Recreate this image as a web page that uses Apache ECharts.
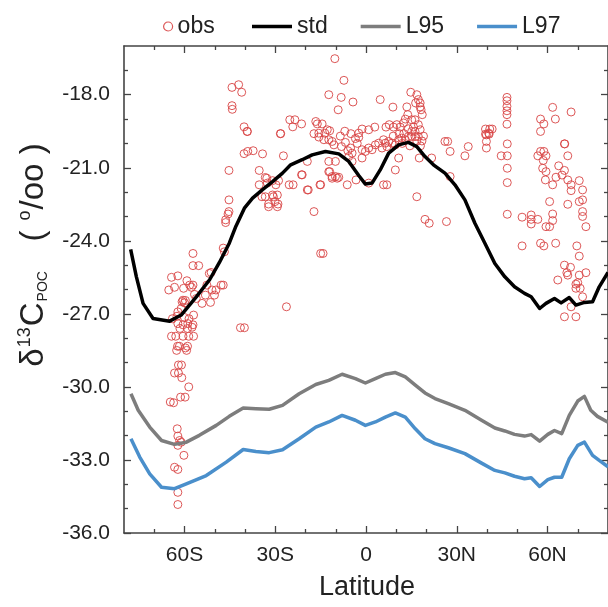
<!DOCTYPE html>
<html><head><meta charset="utf-8">
<script src="https://cdn.jsdelivr.net/npm/echarts@6/dist/echarts.min.js"></script>
<style>html,body{margin:0;padding:0;background:#fff}#c{width:608px;height:607px}</style>
</head><body><div id="c"></div>
<script>
// Latitude ticks
const xMajor = [-60, -30, 0, 30, 60];
const xMinor = [-70, -50, -40, -20, -10, 10, 20, 40, 50, 70];
const xLabels = {'-60':'60S','-30':'30S','0':'0','30':'30N','60':'60N'};
const yMajor = [-36, -33, -30, -27, -24, -21, -18];
const yMinor = [-35, -34, -32, -31, -29, -28, -26, -25, -23, -22, -20, -19, -17];

// std model curve [lat, d13C]
const stdCurve = [[-77.8,-24.35],[-75.9,-25.48],[-73.7,-26.57],[-70.4,-27.19],[-64.9,-27.30],[-61.1,-27.05],[-56.1,-26.3],[-51.7,-25.6],[-48.5,-24.9],[-45.2,-24.1],[-43,-23.4],[-40.2,-22.66],[-37.5,-22.25],[-34.2,-21.9],[-30.9,-21.57],[-27.6,-21.22],[-24.9,-20.88],[-21.1,-20.67],[-17.8,-20.47],[-13.4,-20.33],[-9,-20.43],[-5.7,-20.74],[-2.4,-21.32],[-0.2,-21.67],[2,-21.63],[4.7,-21.09],[7.5,-20.4],[10.8,-20.06],[14,-19.96],[16.8,-20.13],[19.5,-20.54],[22.3,-20.88],[26.1,-21.22],[29.4,-21.7],[32.7,-22.32],[36,-23.28],[39.3,-24.1],[42.6,-24.93],[45.9,-25.48],[49.1,-25.89],[52.4,-26.16],[54.6,-26.3],[57.4,-26.78],[59.5,-26.57],[62.3,-26.37],[64.5,-26.55],[67.2,-26.33],[69.4,-26.64],[72.2,-26.53],[74.9,-26.5],[77.1,-25.89],[80,-25.3]];
// L95 curve
const l95Curve = [[-77.7,-30.28],[-75.3,-30.96],[-71.5,-31.65],[-67.6,-32.2],[-63.3,-32.36],[-59.4,-32.27],[-55.1,-31.99],[-49.5,-31.58],[-45.2,-31.21],[-40.6,-30.87],[-36.4,-30.9],[-32,-30.92],[-27.6,-30.76],[-22.1,-30.28],[-16.6,-29.9],[-12.3,-29.73],[-7.9,-29.48],[-3.5,-29.66],[-0.2,-29.84],[3.1,-29.66],[6.4,-29.48],[9.7,-29.41],[13,-29.59],[16.3,-29.93],[19.5,-30.25],[22.8,-30.48],[27.2,-30.69],[32.7,-30.96],[38.2,-31.37],[42.6,-31.69],[45.9,-31.81],[49.1,-31.95],[52.4,-32.02],[54.6,-31.96],[57.4,-32.23],[60.1,-31.95],[62.3,-31.79],[64.7,-31.92],[67.2,-31.17],[70,-30.58],[72.2,-30.39],[74.3,-30.96],[76.5,-31.21],[80,-31.45]];
// L97 curve
const l97Curve = [[-77.7,-32.13],[-74.8,-32.88],[-71.5,-33.57],[-67.6,-34.12],[-63.3,-34.18],[-59.4,-33.98],[-52.8,-33.64],[-46.2,-33.09],[-40.6,-32.57],[-36.4,-32.65],[-32,-32.7],[-27.6,-32.58],[-22.1,-32.13],[-16.6,-31.65],[-12.3,-31.44],[-7.9,-31.17],[-3.5,-31.37],[-0.2,-31.58],[3.1,-31.44],[6.4,-31.24],[9.7,-31.07],[13,-31.24],[16.3,-31.72],[19.5,-32.13],[22.8,-32.33],[27.2,-32.5],[32.7,-32.74],[38.2,-33.13],[42.6,-33.43],[45.9,-33.53],[49.1,-33.67],[52.4,-33.77],[54.6,-33.73],[57.4,-34.09],[60.1,-33.81],[62.3,-33.71],[64.7,-33.71],[67.2,-32.95],[70,-32.4],[72.2,-32.27],[74.9,-32.81],[77.1,-33.02],[80,-33.28]];

// observations [lat, d13C]
const obsPoints = [
[-64.3,-25.5],[-62.2,-25.44],[-65.2,-26.02],[-63.3,-25.91],[-59.2,-25.64],[-58.3,-25.82],[-57.2,-25.82],[-57.7,-25.91],[-60.3,-25.95],[-52.6,-25.82],[-51.8,-25.34],[-51.2,-25.3],[-47.9,-25.82],[-47.2,-25.82],[-49.6,-26.02],[-50.9,-26.02],[-53.1,-26.23],[-50.1,-26.23],[-54.2,-26.57],[-51.4,-26.53],[-56.7,-26.2],[-56.1,-26.37],[-60.5,-26.44],[-60,-26.55],[-61.1,-26.78],[-62.2,-26.92],[-62.5,-27.1],[-60,-27.15],[-64,-27.2],[-58.5,-27.2],[-57,-27.05],[-62.2,-27.4],[-60.5,-27.45],[-58.9,-27.4],[-57.2,-27.45],[-61.5,-27.6],[-59,-27.6],[-57.5,-27.55],[-64.3,-27.92],[-62.9,-27.92],[-60.5,-27.92],[-58.6,-27.92],[-57,-27.92],[-62.3,-28.33],[-61.7,-28.33],[-59.7,-28.4],[-59,-28.33],[-62.6,-28.5],[-59.3,-28.5],[-62,-29.1],[-61,-29.1],[-63.3,-29.43],[-62,-29.43],[-60.9,-29.62],[-58.6,-30.0],[-61.3,-30.42],[-59.8,-30.42],[-64.7,-30.62],[-63.6,-30.65],[-62.4,-31.72],[-62.2,-32.02],[-61.6,-32.2],[-61.1,-32.27],[-62.2,-32.4],[-60.2,-32.81],[-63.3,-33.3],[-62.2,-33.39],[-62.2,-34.33],[-62.2,-34.83],
[-57.2,-24.52],[-57.2,-25.02],[-55.3,-25.02],[-60.8,-26.5],[-59.7,-26.45],[-46.8,-24.45],[-47.2,-24.3],
[-46.4,-23.14],[-46.4,-23.25],[-45.3,-22.8],[-45.6,-22.9],[-45.3,-22.32],[-45.3,-21.11],[-41.5,-27.57],[-40.2,-27.57],[-26.3,-26.71],
[-44.3,-17.7],[-42.1,-17.59],[-41.1,-17.9],[-44.3,-18.45],[-44.2,-18.6],[-40.3,-19.32],[-39.2,-19.51],[-40.3,-20.42],[-39.1,-20.33],[-37.3,-20.3],[-34.2,-20.43],[-28.3,-19.6],[-27.3,-20.51],[-25.2,-19.03],[-23.5,-19.03],[-24.2,-19.32],[-35.3,-21.11],[-33.3,-21.4],[-30.9,-21.53],[-28.9,-21.53],[-35.3,-21.7],[-32.6,-21.63],[-29.8,-21.7],[-25.4,-21.7],[-24.1,-21.7],[-34.4,-22.19],[-33.3,-22.19],[-30.9,-22.12],[-29.3,-22.12],[-32.2,-22.49],[-30.1,-22.39],[-29.1,-22.49],[-39.3,-19.51],[-28.2,-19.6],[-32.8,-21.43],[-30.6,-22.19],[-29.3,-22.6],[-32.2,-22.6],
[-21.3,-21.29],[-19.4,-20.74],[-19.4,-21.91],[-15.2,-21.7],[-17.2,-22.8],[-12.3,-21.16],[-11.2,-21.43],[-9.5,-21.43],[-12.3,-20.74],[-10.1,-20.74],[-6.2,-21.7],[-3.3,-21.5],[-15,-24.52],[-14.2,-24.52],[-21.3,-19.2],
[-10.3,-16.52],[-7.3,-17.41],[-12.3,-18.0],[-8.2,-18.11],[-4.3,-18.3],[-9.2,-18.62],[4.7,-18.2],[8.9,-18.51],[14.8,-17.9],[16.8,-18.0],[17.3,-18.2],[17.9,-18.34],[16.4,-18.34],[18.2,-18.62],[17.9,-18.5],[18.6,-18.82],[13.5,-18.5],[13.8,-18.82],[15.1,-19.03],[16.2,-19.03],[17.3,-19.23],[15.7,-19.33],[13,-19.0],[12.4,-19.16],[11.3,-19.33],[10.2,-19.23],[9.1,-19.33],[7.7,-19.23],[6.6,-19.33],[2.9,-19.33],[0.9,-19.44],[-1.3,-19.41],[-2.4,-19.58],[-16.6,-19.1],[-16.1,-19.2],[-14.5,-19.2],[-12.8,-19.44],[-12,-19.48],[-13.6,-19.58],[-15.6,-19.58],[-17.2,-19.6],[-15.6,-19.74],[-13.9,-19.85],[-12.3,-19.85],[-11.2,-19.92],[-10.6,-20.06],[-8.1,-20.13],[-6.8,-19.96],[-5.1,-20.19],[-4.6,-20.4],[-5.7,-20.54],[-2.9,-20.0],[-2.4,-19.75],[-1.3,-20.26],[-0.2,-20.33],[0.9,-20.19],[2,-20.26],[3.1,-20.06],[4.2,-19.99],[5.8,-19.85],[6.4,-19.99],[6.9,-20.13],[5.3,-20.19],[7.5,-19.92],[8.6,-19.99],[9.7,-20.06],[10.8,-19.85],[11.8,-19.78],[13,-19.85],[14,-19.72],[15.1,-19.72],[16.2,-19.72],[17.3,-19.72],[15.1,-19.51],[16.2,-19.51],[17.9,-19.44],[-21.1,-21.29],[-19.1,-21.91],[-15,-21.7],[-12,-21.16],[-11.2,-21.36],[-10.1,-21.36],[-9,-21.39],[-4.6,-20.74],[-1.3,-20.6],[0.9,-21.63],[5.8,-21.7],[6.9,-21.7],[9.7,-21.09],[10.8,-20.6],[17.6,-20.6],[21.7,-20.6],[16.8,-22.19],[19.5,-23.12],[20.9,-23.28],[26.6,-23.21],[26.1,-19.92],[27,-19.92],[27.8,-20.33],[32.7,-20.51],[33.8,-20.13],[27.8,-21.36],
[12,-20.0],[14.5,-20.1],[9,-19.7],[11,-19.6],[12.5,-19.6],[14,-19.4],[16.8,-19.9],[18.5,-19.9],[19,-19.7],[18,-20.1],[-3.5,-19.8],[-5,-19.6],[-7,-19.5],[-8.5,-19.7],[-6,-20.3],
[39.8,-19.65],[39.8,-19.92],[39.8,-20.19],[40.6,-19.58],[44.7,-20.51],[46.7,-20.51],[46.7,-20.02],[46.7,-21.02],[46.7,-21.61],[46.7,-22.91],[51.6,-23.03],[54.6,-22.94],[56.8,-23.12],[54.6,-23.31],[51.6,-24.21],[57.7,-24.1],[58.8,-24.21],[62.7,-24.1],[57.7,-20.33],[58.8,-20.33],[56.8,-20.51],[59.5,-20.51],[58.4,-21.02],[59.5,-21.16],[65.7,-20.02],[66.7,-20.51],[63.7,-20.92],[65.6,-21.11],[62.8,-21.39],[61.7,-21.7],[67.8,-21.7],[67.8,-21.94],[70.5,-21.53],[71.6,-21.91],[66.7,-22.5],[70.5,-22.39],[71.6,-22.32],[60.7,-22.39],[61.7,-22.9],[61.7,-23.17],[59.5,-23.42],[60.7,-23.42],[54.6,-23.12],[71.6,-22.8],[71.6,-23.0],[72.7,-23.42],[69.7,-24.21],[70.5,-24.63],[65.6,-25.0],[67.6,-25.09],[66.4,-25.31],[66.7,-25.41],[70.5,-25.41],[72.7,-25.31],[63.4,-25.61],[69.4,-25.78],[70,-25.72],[69.4,-25.95],[70.8,-25.95],[71.6,-26.3],[65.6,-27.12],[69.4,-27.12],[67.8,-26.71],
[46.6,-18.11],[46.6,-18.25],[46.6,-18.48],[46.6,-18.66],[46.6,-18.82],[46.6,-19.21],[39.5,-19.41],[40.9,-19.41],[41.7,-19.41],[39.5,-19.62],[40.7,-19.62],[61.7,-18.52],[67.8,-18.71],[57.7,-19.0],[58.8,-19.2],[57.7,-19.51],[62.6,-19.0],[65.6,-20.02],[58.6,-20.7],[59.3,-21.5],[64.8,-21.3],[66.7,-21.5]
];

const FONT = 'Liberation Sans, Arial, Helvetica, sans-serif';
const axisCol = '#444';
const redCol = '#d84545';

const chart = echarts.init(document.getElementById('c'), null, {renderer:'canvas'});

function xAx(pos, vals, len, showLine, showLabel){
  return {
    type:'value', position:pos, min:-80, max:80, gridIndex:0,
    axisLine:{show:showLine, onZero:false, lineStyle:{color:axisCol, width:1.6}},
    axisTick:{show:true, inside:true, length:len, customValues:vals, lineStyle:{color:axisCol, width:1.3}},
    axisLabel:{show:showLabel, customValues:vals, margin:12, fontSize:21, color:'#222', fontFamily:FONT,
      formatter: v => xLabels[String(v)] !== undefined ? xLabels[String(v)] : ''},
    splitLine:{show:false}
  };
}
function yAx(pos, vals, len, showLine, showLabel){
  return {
    type:'value', position:pos, min:-36, max:-16, gridIndex:0,
    axisLine:{show:showLine, onZero:false, lineStyle:{color:axisCol, width:1.6}},
    axisTick:{show:true, inside:true, length:len, customValues:vals, lineStyle:{color:axisCol, width:1.3}},
    axisLabel:{show:showLabel, customValues:vals, margin:14, fontSize:21, color:'#222', fontFamily:FONT,
      formatter: v => v.toFixed(1)},
    splitLine:{show:false}
  };
}

const option = {
  animation:false,
  backgroundColor:'#fff',
  grid:{left:124, top:46, width:486, height:487, containLabel:false},
  xAxis:[ xAx('bottom', xMajor, 7, true, true), xAx('bottom', xMinor, 4, false, false),
          xAx('top', xMajor, 7, true, false), xAx('top', xMinor, 4, false, false) ],
  yAxis:[ yAx('left', yMajor, 7, true, true), yAx('left', yMinor, 4, false, false),
          yAx('right', yMajor, 7, true, false), yAx('right', yMinor, 4, false, false) ],
  legend:[
    {data:[{name:'obs', icon:'circle', itemStyle:{color:'#fff', borderColor:redCol, borderWidth:1.2}}],
     left:158, top:10, itemWidth:9, itemHeight:9,
     textStyle:{fontSize:23, color:'#222', fontFamily:FONT}},
    {data:[{name:'std', icon:'rect'},{name:'L95', icon:'rect'},{name:'L97', icon:'rect'}],
     left:247, top:10, itemWidth:40, itemHeight:3.5, itemGap:33,
     textStyle:{fontSize:23, color:'#222', fontFamily:FONT}}
  ],
  graphic:[
    {type:'text', x:367, y:588, style:{text:'Latitude', font:'27px '+FONT, fill:'#222', align:'center', verticalAlign:'middle'}},
    {type:'text', x:34, y:255, rotation:Math.PI/2,
     style:{text:'{a|δ}{sup|13}{a|C}{sub|POC}{a|   (}{sp| }{sup|o}{a|/oo}{sp| }{a|)}', align:'center', verticalAlign:'middle', fill:'#222',
       rich:{
         a:{font:'33px '+FONT, fill:'#222', lineHeight:40, verticalAlign:'middle'},
         sp:{font:'33px '+FONT, fill:'#222', lineHeight:40, verticalAlign:'middle'},
         sup:{font:'18px '+FONT, fill:'#222', lineHeight:40, verticalAlign:'top', padding:[2,1,0,1]},
         sub:{font:'14px '+FONT, fill:'#222', lineHeight:40, verticalAlign:'bottom', padding:[0,2,4,1]}
       }}}
  ],
  series:[
    {name:'obs', type:'scatter', xAxisIndex:0, yAxisIndex:0, data:obsPoints, symbol:'circle', symbolSize:8,
     itemStyle:{color:'rgba(0,0,0,0)', borderColor:redCol, borderWidth:1, opacity:0.9}, z:2},
    {name:'std', type:'line', xAxisIndex:0, yAxisIndex:0, data:stdCurve, showSymbol:false, symbol:'none',
     lineStyle:{color:'#000', width:3.5, join:'round'}, itemStyle:{color:'#000'}, z:3},
    {name:'L95', type:'line', xAxisIndex:0, yAxisIndex:0, data:l95Curve, showSymbol:false, symbol:'none',
     lineStyle:{color:'#7d7d7d', width:3.5, join:'round'}, itemStyle:{color:'#7d7d7d'}, z:3},
    {name:'L97', type:'line', xAxisIndex:0, yAxisIndex:0, data:l97Curve, showSymbol:false, symbol:'none',
     lineStyle:{color:'#4a8fcb', width:3.5, join:'round'}, itemStyle:{color:'#4a8fcb'}, z:3}
  ]
};
chart.setOption(option);
</script></body></html>
